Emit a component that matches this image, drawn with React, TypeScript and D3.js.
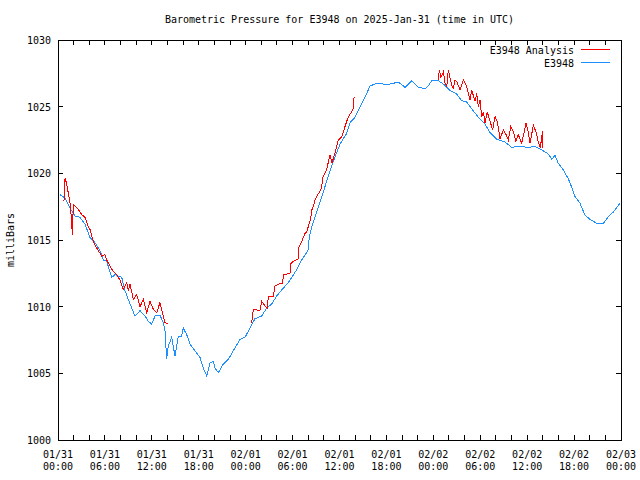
import React from "react";
import * as d3 from "d3";

const TITLE = "Barometric Pressure for E3948 on 2025-Jan-31 (time in UTC)";
const Y_LABEL = "milliBars";
const SERIES_NAMES = ["E3948 Analysis", "E3948"];
const SERIES_COLORS = ["#ff0000", "#1e8fff"];
const Y_TICKS = [1000, 1005, 1010, 1015, 1020, 1025, 1030];
const START = Date.UTC(2025, 0, 31, 0, 0);
const END = Date.UTC(2025, 1, 3, 0, 0);

// [hours since 01/31 00:00 UTC, mb]
const OBS: [number, number][] = [
  [0.26, 1018.4], [0.9, 1018.15], [1.53, 1017.4], [2.17, 1016.8], [2.81, 1016.7], [3.45, 1016.2],
  [4.09, 1015.2], [4.73, 1014.8], [5.37, 1014.2], [5.79, 1013.5], [6.23, 1013.4], [6.87, 1012.2],
  [7.29, 1012.4], [8.15, 1012.2], [8.57, 1011.2], [9.21, 1010.2], [9.85, 1009.3], [10.49, 1009.7],
  [11.13, 1009.3], [11.55, 1008.9], [11.98, 1008.7], [12.41, 1009.3], [13.04, 1009.35], [13.47, 1008.8],
  [13.68, 1008.2], [13.9, 1006.1], [14.11, 1007.05], [14.54, 1007.7], [14.96, 1006.3], [15.39, 1007.8],
  [15.82, 1007.8], [16.02, 1008.4], [16.46, 1007.9], [16.88, 1007.2], [17.52, 1006.7], [18.16, 1006.2],
  [18.58, 1005.4], [19.02, 1004.8], [19.44, 1005.8], [19.86, 1005.9], [20.08, 1005.4], [20.5, 1005.05],
  [21.14, 1005.7], [21.78, 1006.05], [22.42, 1006.7], [23.28, 1007.55], [23.92, 1007.7], [24.55, 1008.4],
  [25.19, 1009.1], [26.05, 1009.3], [26.69, 1009.9], [27.33, 1010.2], [27.97, 1010.8], [28.6, 1011.25],
  [29.45, 1011.8], [30.5, 1012.75], [31.17, 1013.5], [32.0, 1014.25], [32.14, 1015.25], [32.45, 1016.0],
  [32.87, 1016.75], [33.29, 1017.5], [33.6, 1018.0], [33.93, 1018.6], [34.57, 1019.8], [35.21, 1020.9],
  [36.07, 1022.2], [36.92, 1023.0], [37.34, 1023.8], [37.98, 1024.2], [38.62, 1025.0], [39.26, 1025.7],
  [39.9, 1026.55], [40.54, 1026.7], [41.18, 1026.75], [42.04, 1026.65], [42.88, 1026.75], [43.52, 1026.85],
  [44.38, 1026.45], [45.24, 1026.95], [46.08, 1026.45], [46.94, 1026.35], [47.36, 1026.55], [47.79, 1026.95],
  [48.64, 1026.95], [49.28, 1026.7], [50.13, 1026.2], [50.99, 1025.95], [51.63, 1025.45], [52.27, 1025.35],
  [52.91, 1024.85], [53.75, 1024.2], [54.61, 1023.7], [55.25, 1023.05], [56.1, 1022.55], [57.17, 1022.35],
  [58.02, 1021.95], [59.08, 1022.05], [59.94, 1021.95], [61.0, 1022.0], [61.86, 1021.75], [62.71, 1021.45],
  [63.14, 1021.05], [63.56, 1021.35], [63.98, 1020.75], [64.62, 1020.25], [65.26, 1019.6], [65.7, 1018.95],
  [66.12, 1018.25], [66.76, 1017.75], [67.4, 1016.85], [68.04, 1016.55], [68.89, 1016.25], [69.74, 1016.25],
  [70.38, 1016.75], [71.02, 1017.1], [71.87, 1017.75],
];

const ANALYSIS_1: [number, number][] = [
  [0.68, 1017.9], [0.83, 1018.1], [0.9, 1019.65], [1.11, 1019.2], [1.32, 1018.5], [1.53, 1017.8],
  [1.75, 1016.4], [1.83, 1015.4], [1.96, 1017.65], [2.6, 1017.3], [3.03, 1016.9], [3.45, 1016.7],
  [3.88, 1016.0], [4.09, 1015.8], [4.51, 1014.9], [4.95, 1014.4], [5.59, 1013.8], [6.01, 1013.9],
  [6.23, 1013.5], [6.87, 1012.8], [7.51, 1012.4], [7.93, 1012.0], [8.35, 1011.3], [8.79, 1011.8],
  [8.99, 1011.2], [9.21, 1011.7], [9.63, 1010.55], [10.07, 1010.9], [10.49, 1010.0], [10.91, 1010.55],
  [11.34, 1009.55], [11.77, 1010.4], [12.19, 1009.8], [12.62, 1009.55], [13.04, 1010.3], [13.47, 1009.3],
  [13.68, 1008.8], [14.11, 1008.7],
];

const ANALYSIS_2: [number, number][] = [
  [24.77, 1008.8], [24.98, 1009.8], [25.41, 1009.75], [25.83, 1009.75], [26.05, 1010.4], [26.47, 1010.05],
  [26.77, 1009.9], [26.9, 1010.75], [27.53, 1010.75], [27.75, 1011.55], [28.39, 1011.75], [28.74, 1011.75],
  [28.81, 1012.4], [29.67, 1012.5], [29.8, 1013.25], [30.09, 1013.4], [30.75, 1013.6], [30.82, 1014.5],
  [31.17, 1014.9], [31.59, 1015.5], [31.8, 1015.6], [32.14, 1016.25], [32.32, 1016.6], [32.45, 1017.25],
  [32.65, 1017.5], [32.87, 1018.0], [33.2, 1018.4], [33.51, 1018.65], [33.73, 1019.0], [33.85, 1019.65],
  [34.36, 1020.3], [34.79, 1021.4], [35.04, 1020.8], [35.42, 1021.5], [35.85, 1022.5], [36.28, 1022.75],
  [36.7, 1023.5], [37.13, 1024.25], [37.56, 1024.6], [37.77, 1024.9], [37.86, 1025.7],
];

const ANALYSIS_3: [number, number][] = [
  [48.64, 1027.0], [48.77, 1027.75], [48.98, 1027.2], [49.28, 1027.6], [49.5, 1026.75], [49.71, 1026.5],
  [49.92, 1027.75], [50.35, 1026.6], [50.56, 1026.4], [50.77, 1027.0], [50.99, 1026.9], [51.41, 1026.25],
  [51.84, 1027.0], [52.27, 1026.5], [52.47, 1026.0], [52.69, 1025.5], [52.91, 1026.25], [53.33, 1025.4],
  [53.55, 1026.0], [53.75, 1025.0], [53.97, 1025.5], [54.19, 1024.25], [54.4, 1024.6], [54.61, 1023.75],
  [54.9, 1024.6], [55.25, 1023.9], [55.59, 1023.25], [55.89, 1024.25], [56.18, 1023.9], [56.53, 1022.6],
  [56.95, 1023.25], [57.3, 1022.9], [57.59, 1022.5], [57.9, 1023.5], [58.23, 1023.1], [58.57, 1022.4],
  [58.87, 1022.9], [59.3, 1022.25], [59.85, 1023.75], [60.14, 1023.1], [60.36, 1022.25], [60.79, 1023.6],
  [61.13, 1023.1], [61.47, 1022.25], [61.68, 1021.9], [61.97, 1023.2], [62.0, 1021.9],
];

const W = 640, H = 480;
const L = 58, R = 621, T = 40, B = 440;
const FONT = "'DejaVu Sans Mono', 'Liberation Mono', monospace";

export default function App() {
  const x = d3.scaleUtc().domain([new Date(START), new Date(END)]).range([L, R]);
  const y = d3.scaleLinear().domain([1000, 1030]).range([B, T]);
  const toDate = (h: number) => new Date(START + h * 3600e3);
  const line = d3
    .line<[number, number]>()
    .x((d) => x(toDate(d[0])))
    .y((d) => y(d[1]));
  const minorTicks = x.ticks(d3.utcHour.every(2)!);
  const majorTicks = x.ticks(d3.utcHour.every(6)!);
  const fmtD = d3.utcFormat("%m/%d");
  const fmtT = d3.utcFormat("%H:%M");
  const tk = 5;

  return (
    <div style={{ position: "absolute", left: 0, top: 0 }}>
      <svg width={W} height={H} style={{ display: "block", background: "#fff" }} fontFamily={FONT} fontSize={10}>
        <rect x={0} y={0} width={W} height={H} fill="#fff" />
        <text x={(L + R) / 2} y={23} textAnchor="middle">{TITLE}</text>
        <text transform={`translate(14,${(T + B) / 2}) rotate(-90)`} textAnchor="middle">{Y_LABEL}</text>
        <g shapeRendering="crispEdges" stroke="#000">
          {Y_TICKS.map((v) => (
            <g key={v}>
              <line x1={L} x2={L + tk} y1={y(v)} y2={y(v)} />
              <line x1={R} x2={R - tk} y1={y(v)} y2={y(v)} />
            </g>
          ))}
          {minorTicks.map((d) => (
            <g key={+d}>
              <line x1={x(d)} x2={x(d)} y1={B} y2={B - tk} />
              <line x1={x(d)} x2={x(d)} y1={T} y2={T + tk} />
            </g>
          ))}
        </g>
        {Y_TICKS.map((v) => (
          <text key={v} x={51} y={y(v) + 4} textAnchor="end">{v}</text>
        ))}
        {majorTicks.map((d) => (
          <g key={+d}>
            <text x={x(d)} y={458} textAnchor="middle">{fmtD(d)}</text>
            <text x={x(d)} y={470} textAnchor="middle">{fmtT(d)}</text>
          </g>
        ))}
        <g fill="none" strokeWidth={1} shapeRendering="crispEdges">
          <path d={line(OBS) || ""} stroke={SERIES_COLORS[1]} />
          <path d={line(ANALYSIS_1) || ""} stroke={SERIES_COLORS[0]} />
          <path d={line(ANALYSIS_2) || ""} stroke={SERIES_COLORS[0]} />
          <path d={line(ANALYSIS_3) || ""} stroke={SERIES_COLORS[0]} />
        </g>
        <text x={574} y={54} textAnchor="end">{SERIES_NAMES[0]}</text>
        <line x1={581} x2={610} y1={49.5} y2={49.5} stroke={SERIES_COLORS[0]} />
        <text x={574} y={67} textAnchor="end">{SERIES_NAMES[1]}</text>
        <line x1={581} x2={610} y1={62.5} y2={62.5} stroke={SERIES_COLORS[1]} />
        <rect x={L} y={T} width={R - L} height={B - T} fill="none" stroke="#000" shapeRendering="crispEdges" />
      </svg>
    </div>
  );
}
